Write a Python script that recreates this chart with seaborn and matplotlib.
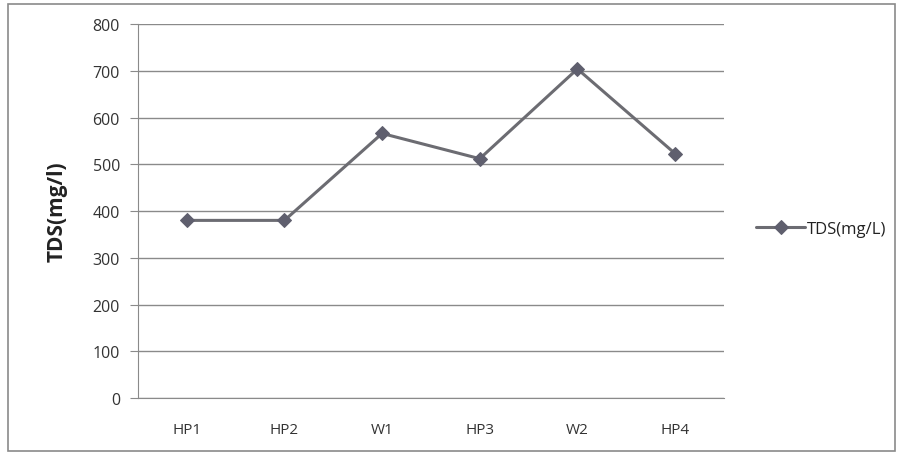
import pandas as pd
import matplotlib
matplotlib.use("Agg")
import matplotlib.pyplot as plt
import seaborn as sns
from matplotlib.patches import Rectangle

# values
sites = ["HP1", "HP2", "W1", "HP3", "W2", "HP4"]
tds = [380, 380, 566, 512, 704, 523]
yticks = [0, 100, 200, 300, 400, 500, 600, 700, 800]

df = pd.DataFrame({"site": sites, "tds": tds})
df["pos"] = range(len(sites))

sns.set_style("white")
plt.rcParams["font.family"] = ["Open Sans", "DejaVu Sans"]

fig = plt.figure(figsize=(9, 4.56), dpi=100)
ax = fig.add_axes([0.1533, 0.125, 0.651, 0.82])

sns.lineplot(data=df, x="pos", y="tds", ax=ax, color="#6c6c72", linewidth=2.2,
             marker="D", markersize=7, markerfacecolor="#5f5f6e",
             markeredgecolor="#5f5f6e", label="TDS(mg/L)")

ax.set_xlim(-0.5, len(sites) - 0.5)
ax.set_ylim(0, 800)
ax.set_yticks(yticks)
ax.set_xticks(df["pos"])
ax.set_xticklabels(sites)
ax.yaxis.grid(True, color="#8a8a8a", linewidth=1)
ax.set_axisbelow(True)

for side in ["top", "right"]:
    ax.spines[side].set_visible(False)
ax.spines["left"].set_color("#8a8a8a")
ax.spines["bottom"].set_color("#8a8a8a")

ax.tick_params(axis="y", length=6, color="#8a8a8a", labelsize=11.5, labelcolor="#333333", pad=7, left=True)
ax.tick_params(axis="x", length=0, labelsize=11, labelcolor="#333333", pad=17)

ax.set_xlabel("")
ax.set_ylabel("TDS(mg/l)", fontsize=15, fontweight="bold", color="#222222", labelpad=18)

ax.legend(loc="center left", bbox_to_anchor=(1.03, 0.452), frameon=False,
          fontsize=12, handlelength=2.9, handletextpad=0.1, labelcolor="#222222")

# outer chart border
fig.patches.append(Rectangle((0.009, 0.008), 0.985, 0.982, transform=fig.transFigure,
                             fill=False, edgecolor="#8a8a8a", linewidth=1.2))

fig.savefig("out.png", dpi=100)
